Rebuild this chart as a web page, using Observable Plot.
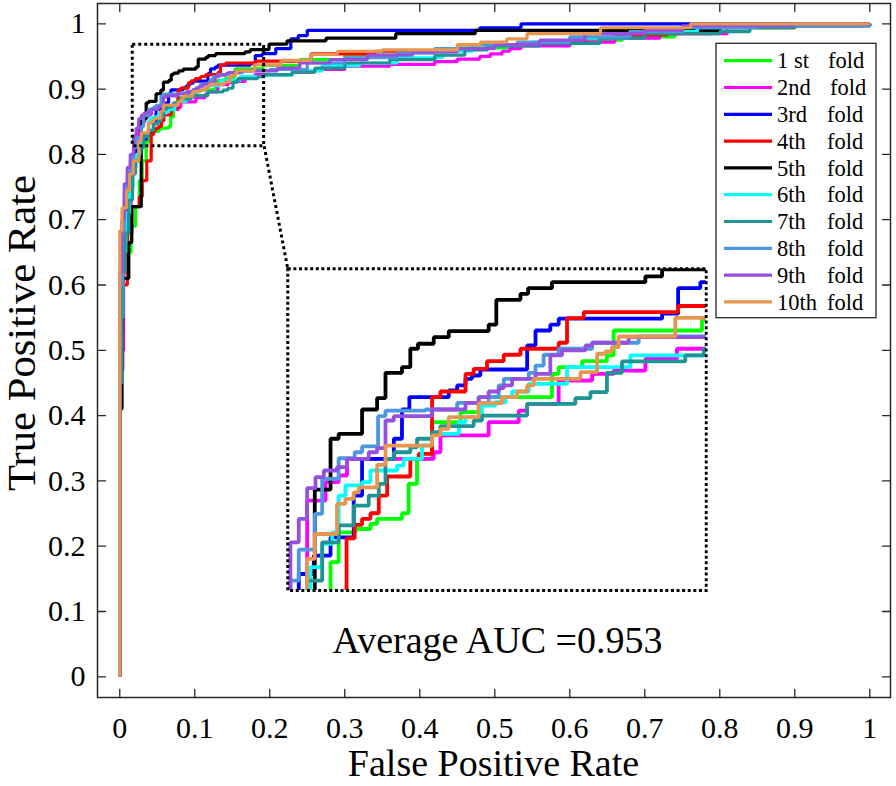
<!DOCTYPE html>
<html>
<head>
<meta charset="utf-8">
<script src="https://cdn.jsdelivr.net/npm/d3@7"></script>
<script src="https://cdn.jsdelivr.net/npm/@observablehq/plot@0.6"></script>
<style>
  html, body { margin: 0; padding: 0; background: #fff; }
  #chart { width: 896px; height: 786px; }
</style>
</head>
<body>
<div id="chart"></div>
<script>
// ---------------- data ----------------
const foldLabels = ["1 st", "2nd", "3rd", "4th", "5th", "6th", "7th", "8th", "9th", "10th"];
const foldWord = "fold";
const foldColors = ["#00ff00", "#ff00ff", "#0000ff", "#ff0000", "#000000", "#00ffff", "#1e9494", "#4d96e0", "#9650e0", "#e6964f"];

const fold1Fpr = [0,0,0.004,0.01,0.015,0.021,0.026,0.03,0.0352,0.0386,0.0456,0.0519,0.0547,0.0651,0.0679,0.0714,0.0777,0.0896,0.0972,0.1279,0.1307,0.1405,0.1509,0.1537,0.1907,0.24,0.30,0.38,0.45,0.52,0.60,0.67,0.74,0.80,0.90,1];
const fold1Tpr = [0,0.50,0.62,0.65,0.69,0.72,0.76,0.79,0.8193,0.8337,0.8353,0.8378,0.8402,0.8429,0.8571,0.8691,0.8868,0.8916,0.8989,0.9101,0.9133,0.9162,0.9190,0.9310,0.9363,0.945,0.952,0.958,0.963,0.968,0.975,0.98,0.988,0.994,0.997,1];

const fold2Fpr = [0,0,0.005,0.01,0.015,0.02,0.0254,0.0331,0.0386,0.0421,0.0784,0.0812,0.1014,0.1140,0.1175,0.1307,0.1447,0.1537,0.1670,0.1802,0.23,0.26,0.30,0.36,0.42,0.45,0.48,0.494,0.51,0.52,0.535,0.60,0.66,0.72,0.81,0.84,1];
const fold2Tpr = [0,0.50,0.65,0.72,0.77,0.79,0.8490,0.8579,0.8611,0.8691,0.8723,0.8804,0.8868,0.8924,0.8956,0.9069,0.9101,0.9117,0.9174,0.9222,0.926,0.93,0.935,0.938,0.942,0.946,0.95,0.954,0.958,0.962,0.966,0.972,0.978,0.985,0.994,0.997,1];

const fold3Fpr = [0,0,0.004,0.008,0.012,0.016,0.02,0.0219,0.0282,0.0352,0.0449,0.0484,0.0617,0.0651,0.0682,0.0847,0.0882,0.0917,0.0944,0.0979,0.1175,0.1210,0.1272,0.1307,0.1740,0.1807,0.1900,0.208,0.228,0.238,0.25,0.48,0.535,1];
const fold3Tpr = [0,0.53,0.63,0.70,0.75,0.78,0.80,0.8136,0.8225,0.8313,0.8514,0.8691,0.8788,0.8929,0.8989,0.9021,0.9045,0.9077,0.9093,0.9122,0.9238,0.9310,0.9338,0.9367,0.9391,0.9514,0.9543,0.962,0.977,0.982,0.99,0.994,1,1];

const fold4Fpr = [0,0,0.004,0.01,0.016,0.026,0.03,0.036,0.0419,0.0453,0.0484,0.0519,0.0554,0.0589,0.0686,0.0721,0.0777,0.0812,0.0917,0.0951,0.1007,0.1077,0.1147,0.1307,0.1342,0.1412,0.1807,0.255,0.34,0.43,0.49,0.56,0.62,0.66,0.73,0.79,0.90,1];
const fold4Tpr = [0,0.47,0.60,0.68,0.72,0.735,0.76,0.79,0.8308,0.8373,0.8402,0.8429,0.8514,0.8606,0.8691,0.8715,0.8989,0.9016,0.9101,0.9125,0.9162,0.9193,0.9222,0.9251,0.9370,0.9399,0.9428,0.954,0.958,0.962,0.968,0.972,0.978,0.983,0.985,0.994,0.997,1];

const fold5Fpr = [0,0,0.003,0.012,0.016,0.0286,0.0352,0.0386,0.0484,0.0547,0.0582,0.0651,0.0686,0.0718,0.0784,0.0847,0.1014,0.1046,0.1147,0.1179,0.1279,0.1670,0.1740,0.199,0.223,0.275,0.368,0.474,0.80,0.99,1];
const fold5Tpr = [0,0.41,0.61,0.665,0.72,0.8543,0.8788,0.8812,0.8929,0.8984,0.9106,0.9133,0.9222,0.9246,0.9278,0.9307,0.9338,0.9458,0.9487,0.9514,0.9543,0.9571,0.9605,0.969,0.974,0.978,0.985,0.99,0.997,1,1];

const fold6Fpr = [0,0,0.004,0.008,0.013,0.018,0.022,0.0268,0.0317,0.0359,0.0386,0.0414,0.0484,0.0519,0.0631,0.0658,0.0735,0.0777,0.0889,0.0917,0.0986,0.1042,0.1084,0.1112,0.1182,0.1342,0.1607,0.1921,0.23,0.27,0.32,0.37,0.43,0.47,0.55,0.60,0.68,0.77,0.86,1];
const fold6Tpr = [0,0.55,0.65,0.71,0.75,0.78,0.80,0.8169,0.8281,0.8337,0.8514,0.8563,0.8579,0.8635,0.8659,0.8691,0.8756,0.8812,0.8868,0.8892,0.8948,0.8964,0.8989,0.9016,0.9053,0.9133,0.9190,0.9214,0.928,0.936,0.94,0.948,0.958,0.968,0.972,0.978,0.988,0.994,0.997,1];

const fold7Fpr = [0,0,0.003,0.007,0.012,0.017,0.021,0.0254,0.0317,0.0386,0.0449,0.0512,0.0554,0.0582,0.0617,0.0686,0.0714,0.0777,0.0812,0.0951,0.0986,0.1175,0.1377,0.1440,0.1509,0.1572,0.1837,0.1914,0.23,0.26,0.30,0.36,0.42,0.46,0.49,0.56,0.64,0.70,0.80,0.84,0.90,1];
const fold7Tpr = [0,0.45,0.62,0.68,0.73,0.77,0.79,0.8104,0.8289,0.8370,0.8466,0.8514,0.8571,0.8691,0.8723,0.8747,0.8788,0.8820,0.8849,0.8876,0.8900,0.8956,0.8984,0.9013,0.9106,0.9161,0.9190,0.9222,0.926,0.932,0.94,0.945,0.952,0.96,0.966,0.97,0.978,0.985,0.988,0.994,0.997,1];

const fold8Fpr = [0,0,0.003,0.006,0.01,0.014,0.0184,0.0219,0.0286,0.0317,0.0386,0.0453,0.0484,0.0551,0.0582,0.0749,0.0882,0.1014,0.1056,0.1077,0.1182,0.1210,0.1244,0.1307,0.1447,0.1642,0.20,0.25,0.30,0.37,0.42,0.47,0.53,0.60,0.68,0.75,0.85,1];
const fold8Tpr = [0,0.60,0.68,0.74,0.77,0.79,0.8104,0.8254,0.8426,0.8595,0.8694,0.8723,0.8751,0.8897,0.8924,0.8929,0.8961,0.8989,0.9045,0.9077,0.9106,0.9141,0.9193,0.9222,0.9251,0.9281,0.93,0.94,0.948,0.955,0.962,0.968,0.972,0.98,0.988,0.994,0.997,1];

const fold9Fpr = [0,0,0.003,0.006,0.01,0.014,0.0184,0.0219,0.0254,0.0289,0.0324,0.0379,0.0421,0.0512,0.0547,0.0582,0.0617,0.0777,0.0917,0.0972,0.1014,0.1056,0.1077,0.1112,0.1210,0.1272,0.1321,0.1419,0.1447,0.1600,0.21,0.24,0.28,0.33,0.39,0.45,0.50,0.56,0.62,0.70,0.75,0.898,1];
const fold9Tpr = [0,0.62,0.70,0.755,0.78,0.80,0.8289,0.8402,0.8550,0.8603,0.8635,0.8651,0.8691,0.8723,0.8743,0.8876,0.8897,0.8929,0.8961,0.8989,0.9016,0.9032,0.9045,0.9077,0.9101,0.9190,0.9214,0.9238,0.9251,0.9278,0.932,0.94,0.945,0.952,0.957,0.962,0.968,0.975,0.985,0.99,0.997,1,1];

const fold10Fpr = [0,0,0.003,0.009,0.013,0.018,0.0254,0.0286,0.0379,0.0414,0.0449,0.0470,0.0547,0.0582,0.0777,0.0812,0.0847,0.0972,0.1070,0.1133,0.1175,0.1203,0.1398,0.1468,0.1502,0.1530,0.1558,0.1795,0.215,0.255,0.29,0.35,0.45,0.481,0.516,0.543,0.641,0.761,1];
const fold10Tpr = [0,0.683,0.718,0.745,0.77,0.79,0.8209,0.8329,0.8474,0.8498,0.8530,0.8554,0.8662,0.8755,0.8804,0.8836,0.8892,0.8960,0.8989,0.9016,0.9045,0.9077,0.9109,0.9198,0.9209,0.9230,0.9281,0.9371,0.944,0.953,0.958,0.96,0.968,0.972,0.977,0.985,0.994,1,1];

const axisTicks = [0, 0.1, 0.2, 0.3, 0.4, 0.5, 0.6, 0.7, 0.8, 0.9, 1];
const axisTickLabels = ["0", "0.1", "0.2", "0.3", "0.4", "0.5", "0.6", "0.7", "0.8", "0.9", "1"];

// zoomed window (FPR / TPR ranges) and where its magnified copy sits
const zoomFpr = [0.0173, 0.1925];
const zoomTpr = [0.8126, 0.9678];
const zoomShownTpr = [0.8056, 0.9608];
const insetFpr = [0.224, 0.782];
const insetTpr = [0.132, 0.625];

const xLabel = "False Positive Rate";
const yLabel = "True Positive Rate";
const aucText = "Average AUC =0.953";

// ---------------- build table ----------------
const foldFpr = [fold1Fpr, fold2Fpr, fold3Fpr, fold4Fpr, fold5Fpr, fold6Fpr, fold7Fpr, fold8Fpr, fold9Fpr, fold10Fpr];
const foldTpr = [fold1Tpr, fold2Tpr, fold3Tpr, fold4Tpr, fold5Tpr, fold6Tpr, fold7Tpr, fold8Tpr, fold9Tpr, fold10Tpr];
const rows = [];
foldLabels.forEach((f, i) => {
  foldFpr[i].forEach((x, j) => rows.push({fold: f, fpr: x, tpr: foldTpr[i][j]}));
});

const serif = "'Liberation Serif', 'Times New Roman', Times, serif";
const W = 896, H = 786;
const color = {domain: foldLabels, range: foldColors};
const tickShape = {draw(ctx, l) { ctx.moveTo(0, 0); ctx.lineTo(0, -l); }};
const fmt = d => axisTickLabels[axisTicks.findIndex(t => Math.abs(t - d) < 1e-9)];

const main = Plot.plot({
  width: W, height: H,
  marginLeft: 97, marginRight: 6, marginTop: 3, marginBottom: 89,
  x: {domain: [-0.0297, 1.0276]},
  y: {domain: [-0.0317, 1.0311]},
  color,
  style: {fontFamily: serif, background: "white", color: "black"},
  marks: [
    Plot.line(rows, {x: "fpr", y: "tpr", z: "fold", stroke: "fold", curve: "step-after", strokeWidth: 3.2, strokeLinejoin: "miter", strokeLinecap: "butt"}),
    Plot.rect([{}], {x1: zoomFpr[0], x2: zoomFpr[1], y1: zoomTpr[0], y2: zoomTpr[1], fill: "none", stroke: "black", strokeWidth: 3, strokeDasharray: "3,3"}),
    Plot.link([{}], {x1: zoomFpr[1], y1: zoomTpr[0], x2: insetFpr[0], y2: insetTpr[1], stroke: "black", strokeWidth: 3, strokeDasharray: "3,3"}),
    Plot.frame({stroke: "#262626", strokeWidth: 1.5}),
    Plot.vector(axisTicks, {x: d => d, frameAnchor: "bottom", rotate: 0, length: 8, anchor: "start", shape: tickShape, stroke: "#262626", strokeWidth: 1.3}),
    Plot.vector(axisTicks, {x: d => d, frameAnchor: "top", rotate: 180, length: 8, anchor: "start", shape: tickShape, stroke: "#262626", strokeWidth: 1.3}),
    Plot.vector(axisTicks, {y: d => d, frameAnchor: "left", rotate: 90, length: 8, anchor: "start", shape: tickShape, stroke: "#262626", strokeWidth: 1.3}),
    Plot.vector(axisTicks, {y: d => d, frameAnchor: "right", rotate: -90, length: 8, anchor: "start", shape: tickShape, stroke: "#262626", strokeWidth: 1.3}),
    Plot.axisX({ticks: axisTicks, tickFormat: fmt, tickSize: 0, tickPadding: 19, fontSize: 30, label: null, anchor: "bottom"}),
    Plot.axisY({ticks: axisTicks, tickFormat: fmt, tickSize: 0, tickPadding: 12, fontSize: 30, label: null, anchor: "left"}),
    Plot.text([aucText], {x: 0.5036, y: 0.037, text: d => d, fontSize: 38, textAnchor: "middle", lineAnchor: "bottom", fill: "black"})
  ]
});

const sx = main.scale("x"), sy = main.scale("y");

// magnified inset
const ix0 = sx.apply(insetFpr[0]), ix1 = sx.apply(insetFpr[1]);
const iy0 = sy.apply(insetTpr[1]), iy1 = sy.apply(insetTpr[0]);
const pad = 2;
const iw = ix1 - ix0 + 2 * pad, ih = iy1 - iy0 + 2 * pad;
const inset = Plot.plot({
  width: iw, height: ih,
  margin: pad,
  x: {domain: zoomFpr, axis: null},
  y: {domain: zoomShownTpr, axis: null},
  color,
  style: {background: "white"},
  marks: [
    Plot.line(rows, {x: "fpr", y: "tpr", z: "fold", stroke: "fold", curve: "step-after", strokeWidth: 3.8, clip: true, strokeLinejoin: "miter", strokeLinecap: "butt"}),
    Plot.frame({stroke: "black", strokeWidth: 3, strokeDasharray: "3,2.6"})
  ]
});
inset.setAttribute("style", `width:${iw}px;height:${ih}px;max-width:none;overflow:hidden;background:white;display:inline`);
inset.setAttribute("x", ix0 - pad);
inset.setAttribute("y", iy0 - pad);
inset.setAttribute("width", iw);
inset.setAttribute("height", ih);
main.appendChild(inset);

const svg = d3.select(main);

// axis titles
svg.append("text")
  .attr("x", (sx.apply(-0.0297) + sx.apply(1.0276)) / 2)
  .attr("y", 776)
  .attr("text-anchor", "middle")
  .attr("font-family", serif)
  .attr("font-size", 38)
  .attr("fill", "black")
  .text(xLabel);

svg.append("text")
  .attr("transform", "translate(35,333) rotate(-90)")
  .attr("text-anchor", "middle")
  .attr("font-family", serif)
  .attr("font-size", 39)
  .attr("fill", "black")
  .attr("textLength", 316)
  .attr("lengthAdjust", "spacingAndGlyphs")
  .text(yLabel);

// legend
const lg = svg.append("g").attr("font-family", serif).attr("font-size", 22.5).attr("fill", "black").attr("text-anchor", "start");
const lgX = 716, lgY = 43.3, lgW = 160, lgH = 274.4, rowH = 26.8;
lg.append("rect").attr("x", lgX).attr("y", lgY).attr("width", lgW).attr("height", lgH)
  .attr("fill", "white").attr("stroke", "#262626").attr("stroke-width", 1.3);
foldLabels.forEach((f, i) => {
  const cy = lgY + 17.4 + i * rowH;
  lg.append("line").attr("x1", lgX + 8).attr("x2", lgX + 56).attr("y1", cy).attr("y2", cy)
    .attr("stroke", foldColors[i]).attr("stroke-width", 3.2);
  lg.append("text").attr("x", lgX + 61).attr("y", cy).attr("dy", "0.34em").text(f);
  lg.append("text").attr("x", lgX + 111 + (i === 1 ? 3 : i === 0 ? 1 : 0)).attr("y", cy).attr("dy", "0.34em").text(foldWord);
});

document.getElementById("chart").appendChild(main);
</script>
</body>
</html>
